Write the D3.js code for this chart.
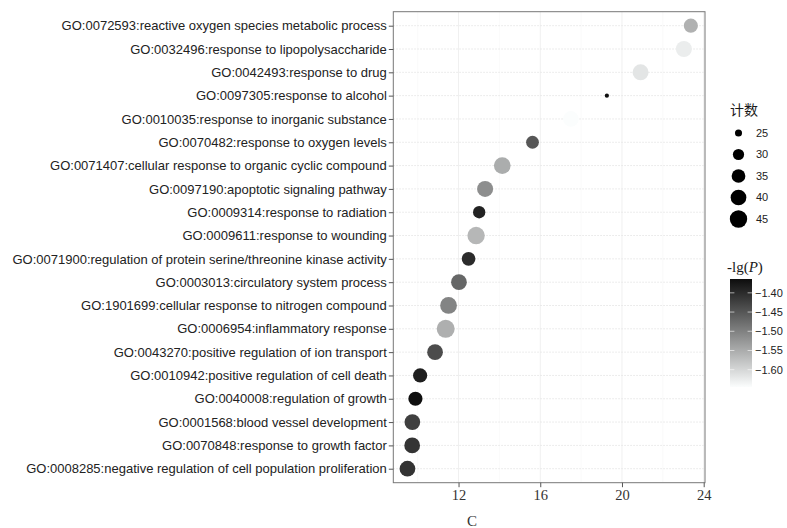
<!DOCTYPE html>
<html>
<head>
<meta charset="utf-8">
<script src="https://cdn.jsdelivr.net/npm/d3@7"></script>
<style>
  body { margin: 0; background: #fff; }
  svg { display: block; }
  .ylab { font-family: "Liberation Sans", Arial, sans-serif; font-size: 13px; fill: #222; }
  .xlab { font-family: "Liberation Serif", "Times New Roman", serif; font-size: 14.5px; fill: #333; }
  .leg { font-family: "Liberation Sans", Arial, sans-serif; font-size: 11px; fill: #222; }
</style>
</head>
<body>
<div id="chart"></div>
<script>
// GO terms, top to bottom
const terms = [
  "GO:0072593:reactive oxygen species metabolic process",
  "GO:0032496:response to lipopolysaccharide",
  "GO:0042493:response to drug",
  "GO:0097305:response to alcohol",
  "GO:0010035:response to inorganic substance",
  "GO:0070482:response to oxygen levels",
  "GO:0071407:cellular response to organic cyclic compound",
  "GO:0097190:apoptotic signaling pathway",
  "GO:0009314:response to radiation",
  "GO:0009611:response to wounding",
  "GO:0071900:regulation of protein serine/threonine kinase activity",
  "GO:0003013:circulatory system process",
  "GO:1901699:cellular response to nitrogen compound",
  "GO:0006954:inflammatory response",
  "GO:0043270:positive regulation of ion transport",
  "GO:0010942:positive regulation of cell death",
  "GO:0040008:regulation of growth",
  "GO:0001568:blood vessel development",
  "GO:0070848:response to growth factor",
  "GO:0008285:negative regulation of cell population proliferation"
];
// x value "C"
const cValues = [23.37, 23.03, 20.91, 19.26, 17.5, 15.62, 14.14, 13.30, 13.01, 12.86,
                 12.49, 12.02, 11.51, 11.37, 10.85, 10.12, 9.89, 9.74, 9.73, 9.50];
// point size (计数)
const counts = [36, 41, 41, 24, 40, 33, 43, 41, 32, 45,
                35, 40, 43, 47, 40, 36, 36, 40, 40, 40];
// colour value -lg(P)
const lgP = [-1.556, -1.626, -1.617, -1.366, -1.645, -1.451, -1.551, -1.515, -1.389, -1.563,
             -1.399, -1.469, -1.503, -1.554, -1.438, -1.385, -1.366, -1.423, -1.410, -1.409];

const xTicks = [12, 16, 20, 24];
const sizeBreaks = [25, 30, 35, 40, 45];
const colorBreaks = [-1.40, -1.45, -1.50, -1.55, -1.60];

const W = 787, H = 528;
const panel = { left: 393.3, right: 705, top: 11.7, bottom: 482.7 };

const data = terms.map((t, i) => ({ term: t, c: cValues[i], n: counts[i], p: lgP[i] }));

const svg = d3.select("#chart").append("svg")
  .attr("width", W).attr("height", H);

// ---- Scales ----
const cExt = d3.extent(cValues);
const pad = (cExt[1] - cExt[0]) * 0.05;
const x = d3.scaleLinear()
  .domain([cExt[0] - pad, cExt[1] + pad])
  .range([panel.left, panel.right]);

const y = d3.scalePoint()
  .domain(terms)
  .range([panel.top, panel.bottom])
  .padding(0.6);

const nMin = 24, nMax = 47;
const rMin = 2.1, rMax = 9;
const r = v => rMin + (rMax - rMin) * Math.sqrt(Math.max(0, v - nMin) / (nMax - nMin));

const pDomain = [-1.645, -1.364];
const lowCol = "#fbfdfd", highCol = "#0d0d0d";
const color = d3.scaleLinear().domain(pDomain).range([lowCol, highCol])
  .interpolate(d3.interpolateRgb).clamp(true);

// ---- Grid ----
const minor = [10, 14, 18, 22];
svg.append("g").selectAll("line.minor")
  .data(minor).join("line")
  .attr("x1", d => x(d)).attr("x2", d => x(d))
  .attr("y1", panel.top).attr("y2", panel.bottom)
  .attr("stroke", "#f7f7f7").attr("stroke-width", 0.6);

svg.append("g").selectAll("line.major")
  .data(xTicks).join("line")
  .attr("x1", d => x(d)).attr("x2", d => x(d))
  .attr("y1", panel.top).attr("y2", panel.bottom)
  .attr("stroke", "#f0f0f0").attr("stroke-width", 1);

svg.append("g").selectAll("line.h")
  .data(terms).join("line")
  .attr("x1", panel.left).attr("x2", panel.right)
  .attr("y1", d => y(d)).attr("y2", d => y(d))
  .attr("stroke", "#e6e6e6").attr("stroke-width", 1)
  .attr("stroke-dasharray", "1.5,1.5");

// ---- Points ----
svg.append("g").selectAll("circle")
  .data(data).join("circle")
  .attr("cx", d => x(d.c))
  .attr("cy", d => y(d.term))
  .attr("r", d => r(d.n))
  .attr("fill", d => color(d.p));

// ---- Panel border ----
svg.append("rect")
  .attr("x", panel.left).attr("y", panel.top)
  .attr("width", panel.right - panel.left).attr("height", panel.bottom - panel.top)
  .attr("fill", "none").attr("stroke", "#777").attr("stroke-width", 1);

// ---- Axes ----
const yAxis = svg.append("g")
  .attr("transform", `translate(${panel.left},0)`)
  .call(d3.axisLeft(y).tickSize(4.5).tickPadding(2));
yAxis.select(".domain").remove();
yAxis.selectAll("line").attr("stroke", "#555");
yAxis.selectAll("text").attr("class", "ylab").attr("fill", null);
yAxis.attr("font-family", null).attr("font-size", null);

const xAxis = svg.append("g")
  .attr("transform", `translate(0,${panel.bottom})`)
  .call(d3.axisBottom(x).tickValues(xTicks).tickSize(4.5).tickPadding(3));
xAxis.select(".domain").remove();
xAxis.selectAll("line").attr("stroke", "#555");
xAxis.selectAll("text").attr("class", "xlab").attr("fill", null);
xAxis.attr("font-family", null).attr("font-size", null);

svg.append("text")
  .attr("class", "xlab")
  .attr("x", 472).attr("y", 526)
  .attr("text-anchor", "middle")
  .style("font-size", "15px")
  .text("C");

// ---- Size legend ----
svg.append("text")
  .attr("x", 730).attr("y", 115)
  .style("font-family", "'Noto Sans CJK SC', sans-serif")
  .style("font-size", "14px")
  .attr("fill", "#1a1a1a")
  .text("计数");

const sizeY = d3.scalePoint().domain(sizeBreaks).range([133, 219]);
const sizeLeg = svg.append("g");
sizeLeg.selectAll("circle")
  .data(sizeBreaks).join("circle")
  .attr("cx", 738.5).attr("cy", d => sizeY(d))
  .attr("r", d => r(d)).attr("fill", "#000");
sizeLeg.selectAll("text")
  .data(sizeBreaks).join("text")
  .attr("class", "leg")
  .attr("x", 756).attr("y", d => sizeY(d)).attr("dy", "0.36em")
  .text(d => d);

// ---- Colour bar ----
const bar = { x: 730, y: 279, w: 22, h: 108 };
const grad = svg.append("defs").append("linearGradient")
  .attr("id", "pgrad").attr("x1", 0).attr("x2", 0).attr("y1", 0).attr("y2", 1);
grad.append("stop").attr("offset", "0%").attr("stop-color", highCol);
grad.append("stop").attr("offset", "100%").attr("stop-color", lowCol);

const title = svg.append("text")
  .attr("x", 727).attr("y", 272)
  .style("font-family", "'Liberation Serif', 'Times New Roman', serif")
  .style("font-size", "15px")
  .attr("fill", "#1a1a1a");
title.append("tspan").text("-lg(");
title.append("tspan").style("font-style", "italic").text("P");
title.append("tspan").text(")");

svg.append("rect")
  .attr("x", bar.x).attr("y", bar.y).attr("width", bar.w).attr("height", bar.h)
  .attr("fill", "url(#pgrad)");

const cbY = d3.scaleLinear().domain(pDomain).range([bar.y + bar.h, bar.y]);
const cbTicks = svg.append("g");
cbTicks.selectAll("line.l")
  .data(colorBreaks).join("line")
  .attr("x1", bar.x).attr("x2", bar.x + 4.4)
  .attr("y1", d => cbY(d)).attr("y2", d => cbY(d))
  .attr("stroke", "#fff").attr("stroke-opacity", 0.6);
cbTicks.selectAll("line.r")
  .data(colorBreaks).join("line")
  .attr("x1", bar.x + bar.w - 4.4).attr("x2", bar.x + bar.w)
  .attr("y1", d => cbY(d)).attr("y2", d => cbY(d))
  .attr("stroke", "#fff").attr("stroke-opacity", 0.6);
cbTicks.selectAll("text")
  .data(colorBreaks).join("text")
  .attr("class", "leg")
  .attr("x", 755).attr("y", d => cbY(d)).attr("dy", "0.36em")
  .text(d => d3.format(".2f")(d));
</script>
</body>
</html>
